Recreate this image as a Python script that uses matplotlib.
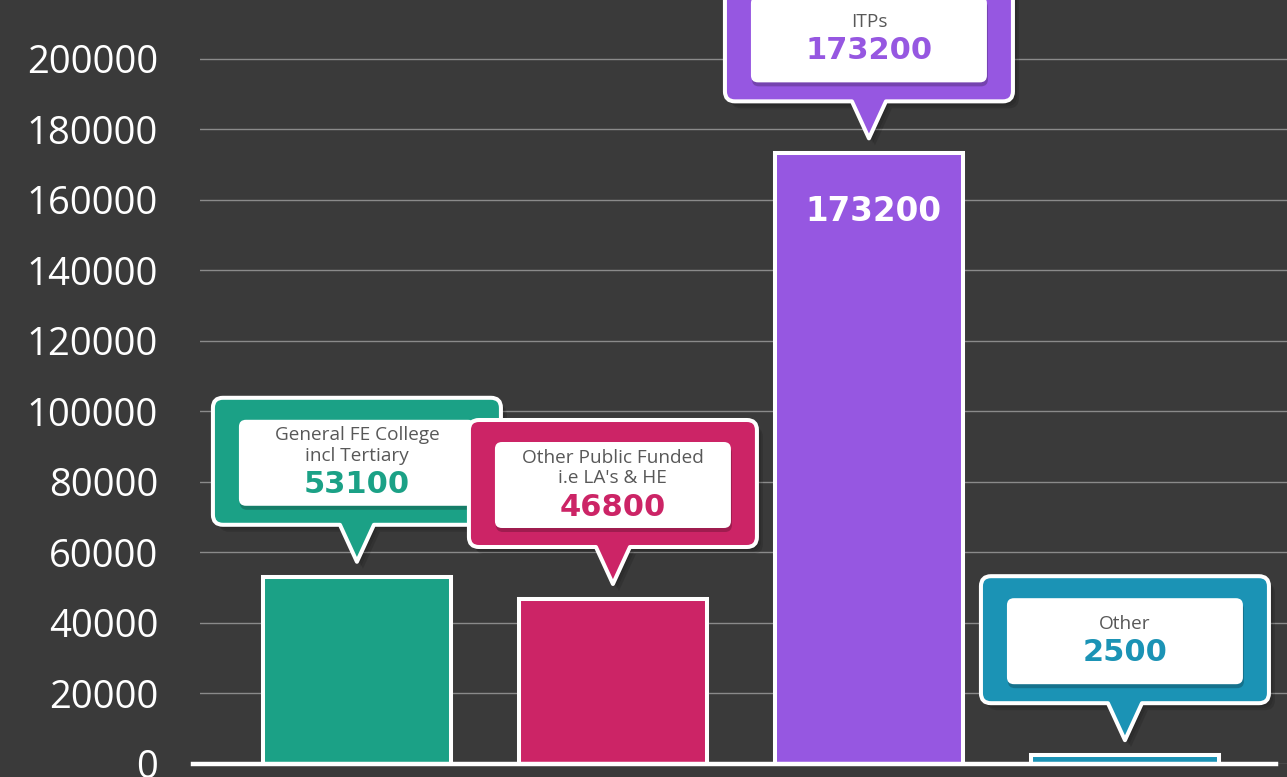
"""
Bar chart of learner numbers by provider type, with speech-bubble callouts.
"""

import matplotlib.pyplot as plt
import matplotlib.transforms as mtransforms
from matplotlib.patches import PathPatch, FancyBboxPatch
from matplotlib.path import Path

categories = ["General FE College\nincl Tertiary", "Other Public Funded\ni.e LA's & HE", "ITPs", "Other"]
values = [53100, 46800, 173200, 2500]
colors = ["#1ba186", "#cc2466", "#9657e1", "#1b93b5"]
inside_label = [False, False, True, False]
yticks = list(range(0, 200001, 20000))

BG = "#3a3a3a"
DPI = 100


def callout_path(w=288, h=127, r=10, tw=34, th=37):
    """Rounded box with a downward pointer, tip at (0, 0), units in pixels."""
    x0, x1 = -w / 2, w / 2
    y0, y1 = th, th + h
    verts = [
        (0, 0), (tw / 2, y0), (x1 - r, y0),
        (x1, y0), (x1, y0 + r),
        (x1, y1 - r),
        (x1, y1), (x1 - r, y1),
        (x0 + r, y1),
        (x0, y1), (x0, y1 - r),
        (x0, y0 + r),
        (x0, y0), (x0 + r, y0),
        (-tw / 2, y0), (0, 0),
    ]
    codes = [Path.MOVETO, Path.LINETO, Path.LINETO,
             Path.CURVE3, Path.CURVE3, Path.LINETO,
             Path.CURVE3, Path.CURVE3, Path.LINETO,
             Path.CURVE3, Path.CURVE3, Path.LINETO,
             Path.CURVE3, Path.CURVE3, Path.LINETO, Path.CLOSEPOLY]
    return Path(verts, codes)


def main():
    plt.rcParams["font.family"] = ["Open Sans", "DejaVu Sans"]
    fig = plt.figure(figsize=(12.87, 7.77), dpi=DPI, facecolor=BG)
    ax = fig.add_axes([200 / 1287, 13 / 777, 1087 / 1287, 764 / 777])
    ax.set_facecolor(BG)

    x = list(range(len(categories)))
    ax.bar(x, values, width=0.735, color=colors, edgecolor="white",
           linewidth=2.9, zorder=3)

    ax.set_xlim(-0.613, 3.633)
    ax.set_ylim(0, 216700)
    ax.set_yticks(yticks)
    ax.set_yticklabels([str(t) for t in yticks], fontsize=27.5, color="white")
    ax.tick_params(axis="y", length=0, pad=30)
    ax.set_xticks([])
    ax.grid(axis="y", color="#8a8a8a", linewidth=1.0, zorder=0)
    for s in ax.spines.values():
        s.set_visible(False)
    ax.axhline(0, xmin=-0.006, xmax=0.99, color="white", linewidth=3.2,
               zorder=4, clip_on=False)

    for i, (cat, val, col) in enumerate(zip(categories, values, colors)):
        # pixel offsets relative to the bar top
        trans = mtransforms.Affine2D() + mtransforms.ScaledTranslation(i, val, ax.transData)
        z = 10 + i * 2
        tip = 15
        path = callout_path()
        shifted = Path(path.vertices + [0, tip], path.codes)

        # soft shadow
        for k, a in enumerate([0.10, 0.10, 0.12]):
            sh = Path(shifted.vertices + [2 + k * 2, -3 - k * 2], shifted.codes)
            ax.add_patch(PathPatch(sh, transform=trans, facecolor="black",
                                   edgecolor="none", alpha=a, zorder=z, clip_on=False))
        ax.add_patch(PathPatch(shifted, transform=trans, facecolor=col,
                               edgecolor="white", linewidth=2.9, joinstyle="round",
                               zorder=z, clip_on=False))

        # inner white card
        bx0, bw = -118, 236
        by0 = tip + 37 + 19
        bh = 86
        ax.add_patch(FancyBboxPatch((bx0 + 1, by0 - 4), bw, bh,
                                    boxstyle="round,pad=0,rounding_size=7",
                                    transform=trans, facecolor="black", alpha=0.22,
                                    edgecolor="none", zorder=z + 0.5, clip_on=False))
        ax.add_patch(FancyBboxPatch((bx0, by0), bw, bh,
                                    boxstyle="round,pad=0,rounding_size=7",
                                    transform=trans, facecolor="white",
                                    edgecolor="none", zorder=z + 0.6, clip_on=False))

        n = cat.count("\n") + 1
        line_h = 21
        block_h = n * line_h + 29
        cy = by0 + bh / 2
        ax.text(0, cy + block_h / 2 + 1, cat, transform=trans, ha="center", va="top",
                fontsize=13.7, color="#585858", linespacing=1.18,
                zorder=z + 1, clip_on=False)
        ax.text(0, cy - block_h / 2 - 1, f"{val}", transform=trans, ha="center",
                va="bottom", fontsize=22, fontweight="bold", color=col,
                family="DejaVu Sans", zorder=z + 1, clip_on=False)

        if inside_label[i]:
            ax.text(4, -58, f"{val}", transform=trans, ha="center", va="center",
                    fontsize=23.5, fontweight="bold", color="white",
                    family="DejaVu Sans", zorder=z + 1)

    fig.savefig("out.png", dpi=DPI, facecolor=BG)
    plt.close(fig)


if __name__ == "__main__":
    main()
